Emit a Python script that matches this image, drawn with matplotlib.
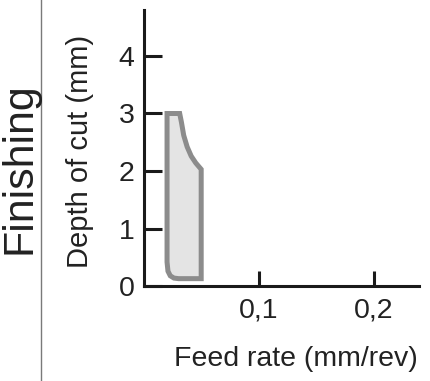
import matplotlib.pyplot as plt
from matplotlib.patches import Polygon

plt.rcParams['font.family'] = ['Liberation Sans', 'DejaVu Sans']

# Finishing window boundary (feed rate mm/rev, depth of cut mm)
feed = [0.020, 0.031, 0.0325, 0.0345, 0.0375, 0.0410, 0.0450, 0.0497, 0.0497,
        0.030, 0.026, 0.0228, 0.0208, 0.020]
depth = [3.0, 3.0, 2.85, 2.62, 2.42, 2.26, 2.14, 2.03, 0.13,
         0.13, 0.14, 0.18, 0.26, 0.42]

x_ticks = [0.1, 0.2]
x_labels = ['0,1', '0,2']
y_ticks = [0, 1, 2, 3, 4]

fig = plt.figure(figsize=(4.3, 3.81), dpi=100)
ax = fig.add_axes([0.335, 0.249, 0.639, 0.725])

poly = Polygon(list(zip(feed, depth)), closed=True, facecolor='#e4e4e4',
               edgecolor='#8c8c8c', linewidth=3.6, joinstyle='miter')
ax.add_patch(poly)

ax.set_xlim(0, 0.239)
ax.set_ylim(0, 4.8)

for side in ['top', 'right']:
    ax.spines[side].set_visible(False)
for side in ['left', 'bottom']:
    ax.spines[side].set_linewidth(2.2)
    ax.spines[side].set_color('#1a1a1a')

ax.set_xticks(x_ticks)
ax.set_xticklabels(x_labels)
ax.set_yticks(y_ticks)
ax.tick_params(axis='y', direction='in', length=13, width=2.2, color='#1a1a1a',
               labelsize=20.5, pad=7, labelcolor='#222222')
ax.tick_params(axis='x', direction='in', length=11, width=2.2, color='#1a1a1a',
               labelsize=20.5, pad=8, labelcolor='#222222')

ax.set_xlabel('Feed rate (mm/rev)', fontsize=20.5, color='#222222', va='center')
ax.xaxis.set_label_coords(0.553, -0.264)
ax.set_ylabel('Depth of cut (mm)', fontsize=21, color='#222222', va='center')
ax.yaxis.set_label_coords(-0.232, 0.486)

fig.text(0.045, 0.559, 'Finishing', rotation=90, fontsize=31, color='#222222',
         ha='center', va='center')
fig.add_artist(plt.Line2D([0.0965, 0.0965], [0, 1], transform=fig.transFigure,
                          color='#7a7a7a', linewidth=1.0))

plt.savefig('out.png', dpi=100)
